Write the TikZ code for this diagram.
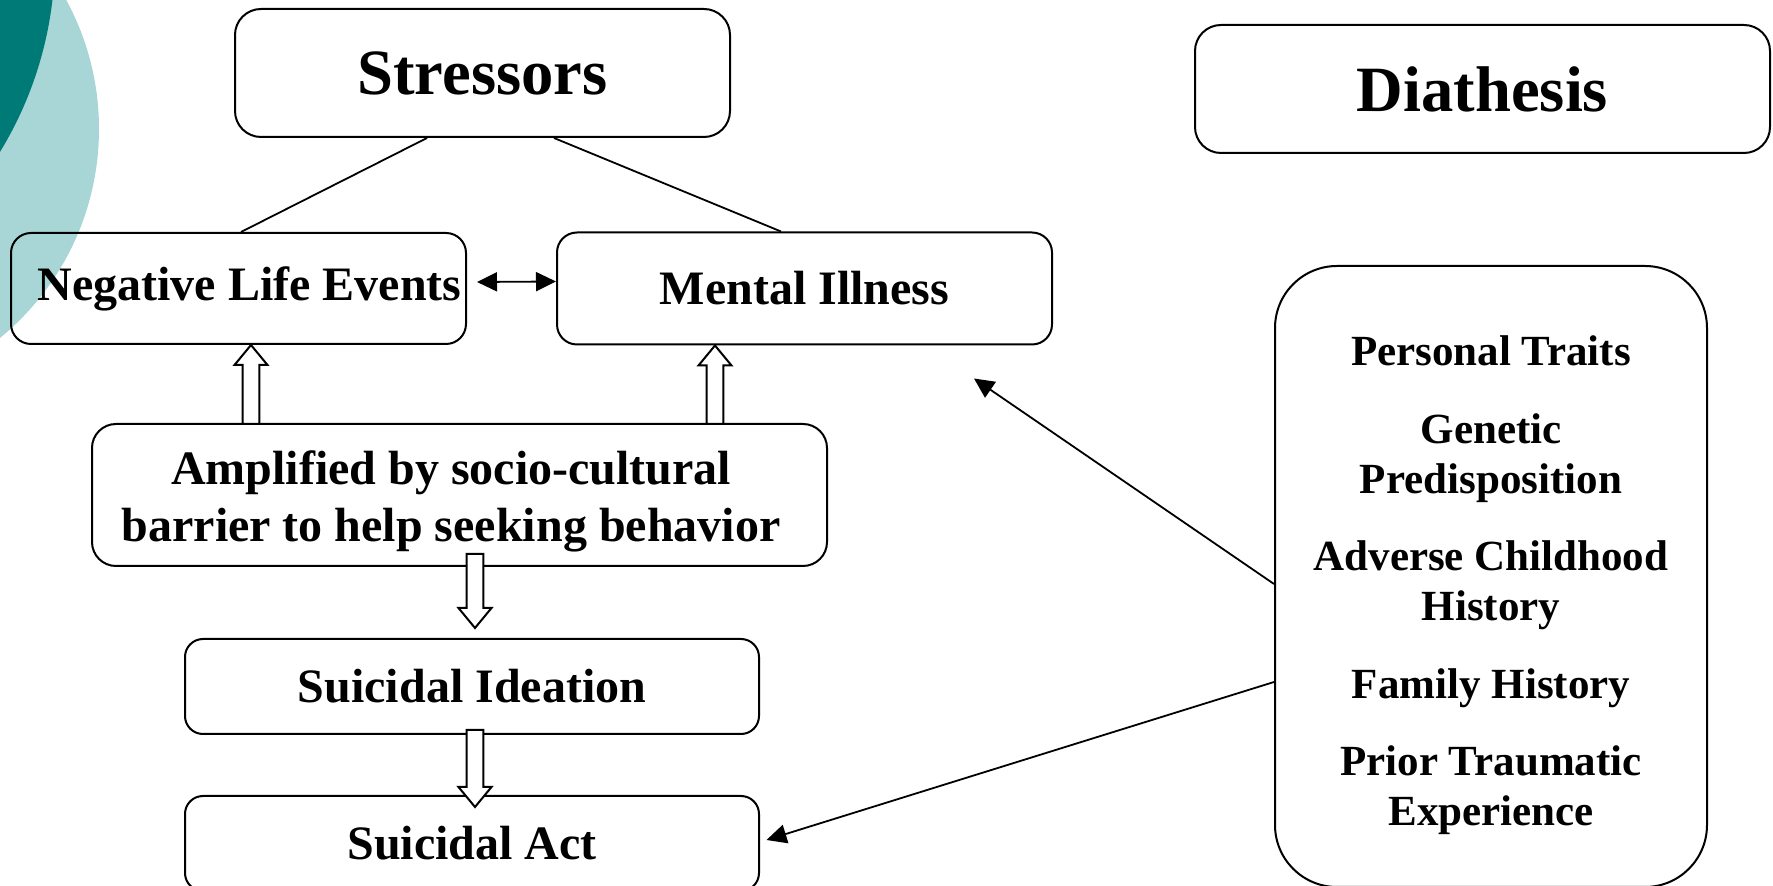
\documentclass[tikz,border=0pt]{standalone}
\usepackage{fontspec}
\setmainfont{Liberation Serif}
\usetikzlibrary{positioning,arrows.meta,calc}

\definecolor{tealdark}{RGB}{0,122,118}
\definecolor{teallight}{RGB}{168,214,214}

\begin{document}
\begin{tikzpicture}[
  x=0.5pt, y=-0.5pt,
  >={Triangle[length=10pt,width=9.5pt]},
  font=\fontsize{24}{27}\selectfont\bfseries,
  box/.style={draw, rounded corners=10pt, align=center, line width=1pt,
              inner sep=2.25pt},
  head/.style={box, rounded corners=13pt, minimum width=247.5pt,
               minimum height=64pt, font=\fontsize{32.3}{36}\selectfont\bfseries},
  stage/.style={box, rounded corners=9pt, minimum width=287pt, minimum height=47.5pt},
  traitbox/.style={box, rounded corners=31pt, minimum width=216pt,
                   minimum height=310.5pt, font=\fontsize{21.5}{25}\selectfont\bfseries},
  link/.style={line width=0.9pt},
  flow/.style={->, line width=0.9pt},
  twoway/.style={<->, line width=0.9pt},
  blockarrow/.style={draw, fill=white, line width=1pt, to path={
    (\tikztostart) coordinate (bkstart) (\tikztotarget) coordinate (bkend)
    ($(bkend)!10pt!(bkstart)$) coordinate (bkbase)
    ($(bkstart)!4.2pt!90:(bkend)$) -- ($(bkbase)!4.2pt!90:(bkend)$)
    -- ($(bkbase)!8.25pt!90:(bkend)$) -- (bkend)
    -- ($(bkbase)!8.25pt!-90:(bkend)$) -- ($(bkbase)!4.2pt!-90:(bkend)$)
    -- ($(bkstart)!4.2pt!-90:(bkend)$) -- cycle}},
]
\useasboundingbox (0,0) rectangle (1773,886);
\clip (0,0) rectangle (1773,886);

% corner decoration
\fill[teallight] (-171,129) circle (270);
\fill[tealdark] (-321,-44) circle (376);

\node[head] (stress) at (482.5,73) {Stressors};
\node[head, minimum width=287.5pt] (diath) at (1482.5,89) {Diathesis};
\node[box, minimum height=55.5pt, text width=223pt, align=flush right] (nle) at (238.5,288.5) {Negative Life Events};
\node[box, minimum width=247.5pt, minimum height=56pt, right=44.5pt of nle] (mental) {Mental Illness};
\node[box, rounded corners=12pt, minimum width=367.5pt, minimum height=71pt,
      font=\fontsize{24}{28.5}\selectfont\bfseries] (amp) at (459.5,495)
  {\rule{0pt}{23.5pt}Amplified by socio-cultural\hspace*{8.5pt}\\barrier to help seeking behavior\hspace*{8.5pt}};
\node[stage] (idea) at (472,686.5) {Suicidal Ideation};
\node[stage, below=30pt of idea] (act) {Suicidal Act};
\node[traitbox] (traits) at (1491,576.5) {\rule{0pt}{23.6pt}Personal Traits\\[13.75pt]
  Genetic\\Predisposition\\[13.75pt]
  Adverse Childhood\\History\\[13.75pt]
  Family History\\[13.75pt]
  Prior Traumatic\\Experience};
\coordinate (mitip) at ($(mental.south)+(169.5,33)$);

\draw[link] ($(stress.south)+(-55.5,0)$) -- ($(nle.north)+(2.5,0)$);
\draw[link] ($(stress.south)+(71.5,0)$) -- ($(mental.north)+(-23.5,0)$);
\draw[twoway] ($(nle.east)+(10,-6.5)$) -- ($(mental.west)+(0,-7)$);

\draw[blockarrow] ($(amp.north -| nle.south)+(12.5,1)$) to ($(nle.south)+(12.5,0)$);
\draw[blockarrow] ($(amp.north -| mental.south)+(-89.5,1)$) to ($(mental.south)+(-89.5,0)$);
\draw[blockarrow] ($(amp.south -| idea.north)+(3,-13)$) to ($(idea.north)+(3,-10)$);
\draw[blockarrow] ($(idea.south)+(3,-5)$) to ($(act.north)+(3,12)$);

\draw[flow] ($(traits.west)+(0,7.5)$) -- (mitip);
\draw[flow] ($(traits.west)+(0,105.5)$) -- ($(act.east)+(6.5,-3.5)$);
\end{tikzpicture}
\end{document}
